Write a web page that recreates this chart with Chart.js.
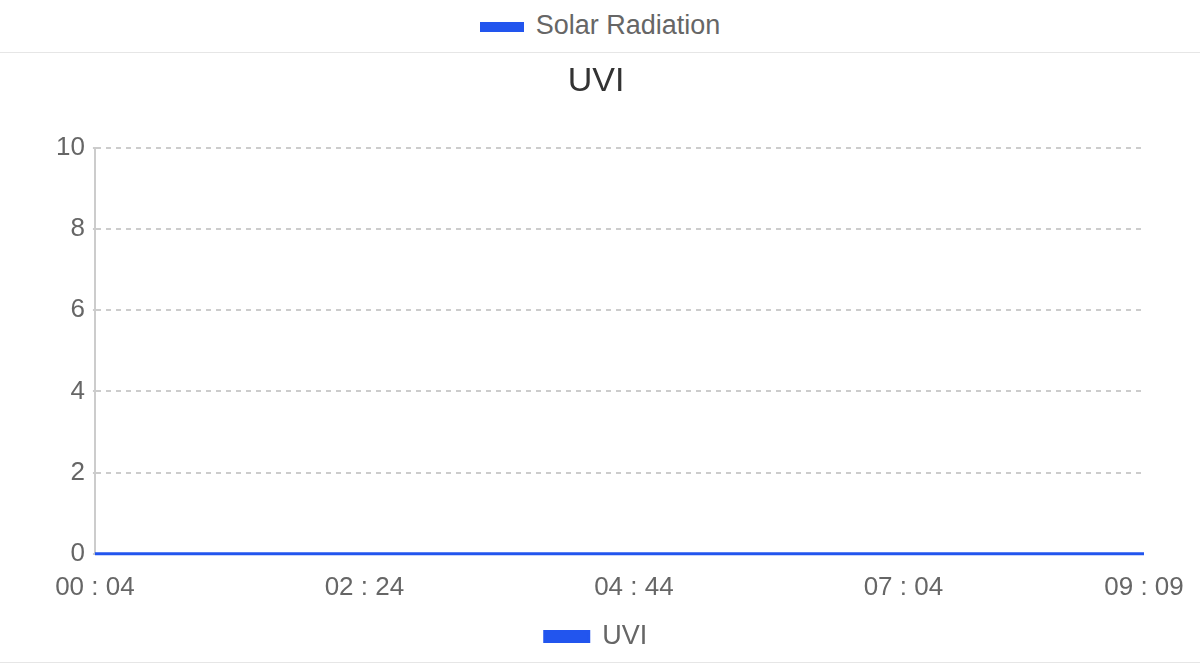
<!DOCTYPE html>
<html lang="en">
<head>
<meta charset="UTF-8">
<title>UVI</title>
<script src="https://cdn.jsdelivr.net/npm/chart.js"></script>
<style>
  body { margin: 0; background: #fff; font-family: "Liberation Sans", Arial, sans-serif; }
  #top { height: 52px; border-bottom: 1px solid #e6e6e6; text-align: center; line-height: 50px; font-size: 27px; color: #666; }
  #top span.sw { display: inline-block; width: 44px; height: 10px; background: #2255ee; vertical-align: middle; margin-right: 12px; }
  #wrap { width: 1200px; height: 609px; border-bottom: 1px solid #e6e6e6; }
</style>
</head>
<body>
<div id="top"><span class="sw"></span>Solar Radiation</div>
<div id="wrap"><canvas id="uvi"></canvas></div>
<script>
// minutes since midnight
var times = [4, 19, 34, 49, 64, 79, 94, 109, 124, 139, 154, 169, 184, 199, 214, 229, 244, 259, 274, 289,
             304, 319, 334, 349, 364, 379, 394, 409, 424, 439, 454, 469, 484, 499, 514, 529, 544, 549];
var uvi =   [0, 0, 0, 0, 0, 0, 0, 0, 0, 0, 0, 0, 0, 0, 0, 0, 0, 0, 0, 0,
             0, 0, 0, 0, 0, 0, 0, 0, 0, 0, 0, 0, 0, 0, 0, 0, 0, 0];
var xTicks = [4, 144, 284, 424, 549];
var yTicks = [0, 2, 4, 6, 8, 10];

function fmt(m) {
  var h = Math.floor(m / 60), mm = m % 60;
  return (h < 10 ? '0' : '') + h + ' : ' + (mm < 10 ? '0' : '') + mm;
}

new Chart(document.getElementById('uvi'), {
  type: 'line',
  data: {
    datasets: [{
      label: 'UVI',
      data: times.map(function (t, i) { return { x: t, y: uvi[i] }; }),
      borderColor: '#2255ee',
      backgroundColor: '#2255ee',
      borderWidth: 3,
      pointRadius: 0,
      clip: false
    }]
  },
  options: {
    responsive: true,
    maintainAspectRatio: false,
    animation: false,
    layout: { padding: { left: 48, right: 56, top: 0, bottom: 2 } },
    plugins: {
      title: { display: true, text: 'UVI', color: '#333', font: { size: 34, weight: 'normal', family: 'Liberation Sans' }, padding: { top: 8, bottom: 46 } },
      legend: {
        position: 'bottom',
        labels: { color: '#666', font: { size: 27, family: 'Liberation Sans' }, boxWidth: 44, boxHeight: 10, padding: 10 }
      },
      tooltip: { enabled: false }
    },
    scales: {
      x: {
        type: 'linear',
        min: 4, max: 549,
        afterBuildTicks: function (s) { s.ticks = xTicks.map(function (v) { return { value: v }; }); },
        ticks: { color: '#666', font: { size: 26, family: 'Liberation Sans' }, maxRotation: 0, autoSkip: false, padding: 10,
                 callback: function (v) { return fmt(v); } },
        grid: { display: false },
        border: { display: false }
      },
      y: {
        min: 0, max: 10,
        afterBuildTicks: function (s) { s.ticks = yTicks.map(function (v) { return { value: v }; }); },
        ticks: { color: '#666', font: { size: 26, family: 'Liberation Sans' }, padding: 8 },
        grid: { color: '#cccccc', lineWidth: 2, drawTicks: true, tickLength: 2 },
        border: { display: true, color: '#cccccc', width: 2, dash: [5, 5] }
      }
    }
  }
});
</script>
</body>
</html>
